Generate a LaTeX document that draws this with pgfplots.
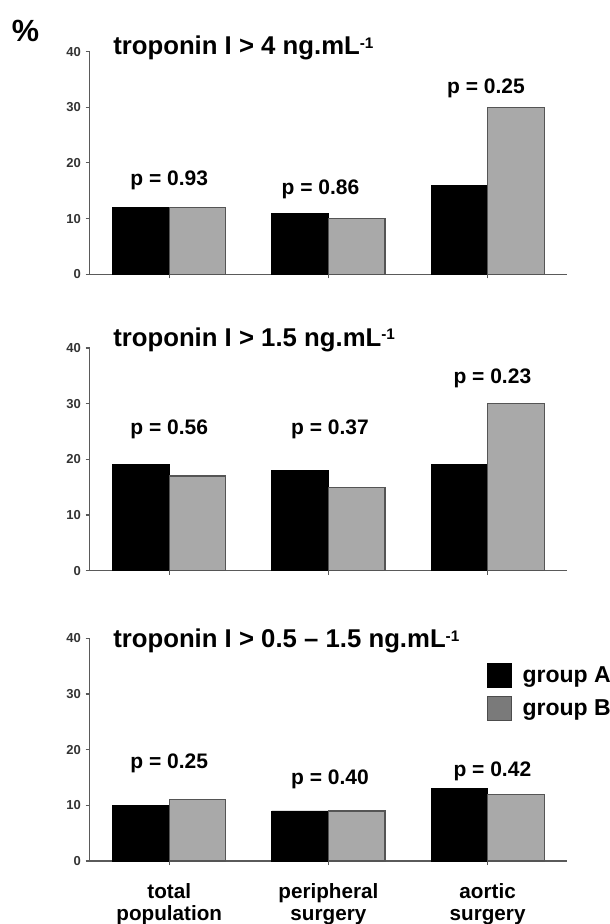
\documentclass[border=0pt]{standalone}
\usepackage{fontspec}
\setmainfont{Liberation Sans}
\usepackage{pgfplots}
\pgfplotsset{compat=1.18}

\definecolor{barB}{RGB}{169,169,169}
\definecolor{edgeB}{RGB}{85,85,85}
\definecolor{legB}{RGB}{122,122,122}
\definecolor{axisgray}{RGB}{90,90,90}

\pgfplotsset{
  panel/.style={
    scale only axis,
    width=358.2pt, height=167pt,
    anchor=south west,
    xmin=-0.5, xmax=2.5, ymin=0, ymax=40,
    axis lines*=left,
    axis line style={axisgray, line width=1.1pt},
    ytick={0,10,20,30,40},
    xtick={0,1,2},
    tick align=outside,
    major tick length=3pt,
    tick style={axisgray, line width=0.8pt},
    /pgf/number format/assume math mode=true,
    yticklabel style={font=\bfseries\fontsize{9.75}{11}\selectfont, text=black!80},
    ybar, bar width=0.355,
    clip=false,
  },
  grpA/.style={fill=black, draw=black, line width=0.6pt, bar shift=-0.1775},
  grpB/.style={fill=barB, draw=edgeB, line width=0.9pt, bar shift=0.1775},
}
\newcommand{\pfont}{\bfseries\fontsize{15.75}{18}\selectfont}
\newcommand{\tfont}{\bfseries\fontsize{19.3}{22}\selectfont}
\newcommand{\unitsup}{\raisebox{5pt}{\fontsize{11.5}{12}\selectfont -1}}

\begin{document}
\begin{tikzpicture}
\useasboundingbox (0,0) rectangle (457.5pt,693pt);

\node[anchor=base west, font=\bfseries\fontsize{23}{26}\selectfont, inner sep=0pt] at (8.8pt,661.5pt) {\%};

% panel 1: troponin I > 4
\begin{axis}[panel, at={(67.2pt,487.3pt)}, xticklabels={}]
\addplot[grpA] coordinates {(0,12) (1,11) (2,16)};
\addplot[grpB] coordinates {(0,12) (1,10) (2,30)};
\node[font=\pfont, anchor=base] at (axis cs:0,15.9) {p = 0.93};
\node[font=\pfont, anchor=base] at (axis cs:0.95,14.4) {p = 0.86};
\node[font=\pfont, anchor=base] at (axis cs:1.99,32.5) {p = 0.25};
\end{axis}
\node[anchor=base west, font=\tfont, inner sep=0pt] at (84.75pt,651.75pt) {troponin I > 4 ng.mL\unitsup};

% panel 2: troponin I > 1.5
\begin{axis}[panel, at={(67.2pt,265pt)}, xticklabels={}]
\addplot[grpA] coordinates {(0,19) (1,18) (2,19)};
\addplot[grpB] coordinates {(0,17) (1,15) (2,30)};
\node[font=\pfont, anchor=base] at (axis cs:0,24.5) {p = 0.56};
\node[font=\pfont, anchor=base] at (axis cs:1.01,24.5) {p = 0.37};
\node[font=\pfont, anchor=base] at (axis cs:2.03,33.7) {p = 0.23};
\end{axis}
\node[anchor=base west, font=\tfont, inner sep=0pt] at (84.75pt,433pt) {troponin I > 1.5 ng.mL\unitsup};

% panel 3: troponin I > 0.5 - 1.5
\begin{axis}[panel, at={(67.2pt,47.25pt)},
  xticklabels={total\\population, peripheral\\surgery, aortic\\surgery},
  xticklabel style={align=center, font=\bfseries\fontsize{15.5}{16.5}\selectfont, text=black, yshift=-10.5pt},
  legend style={at={(rel axis cs:0.831,0.889)}, anchor=north west, draw=none, fill=none,
    inner sep=0pt, row sep=6pt, column sep=6pt, font=\bfseries\fontsize{17.25}{20}\selectfont},
  legend cell align=left,
  legend image code/.code={\draw[#1] (0pt,-9pt) rectangle (18pt,9pt);},
]
\addplot[grpA, forget plot] coordinates {(0,10) (1,9) (2,13)};
\addplot[grpB, forget plot] coordinates {(0,11) (1,9) (2,12)};
\node[font=\pfont, anchor=base] at (axis cs:0,16.6) {p = 0.25};
\node[font=\pfont, anchor=base] at (axis cs:1.01,13.8) {p = 0.40};
\node[font=\pfont, anchor=base] at (axis cs:2.03,15.1) {p = 0.42};
\addlegendimage{fill=black, draw=black, line width=0.6pt}
\addlegendentry{group A}
\addlegendimage{fill=legB, draw=black!70, line width=0.9pt}
\addlegendentry{group B}
\end{axis}
\node[anchor=base west, font=\tfont, inner sep=0pt] at (84.75pt,207.2pt) {troponin I > 0.5 – 1.5 ng.mL\unitsup};
\end{tikzpicture}
\end{document}
